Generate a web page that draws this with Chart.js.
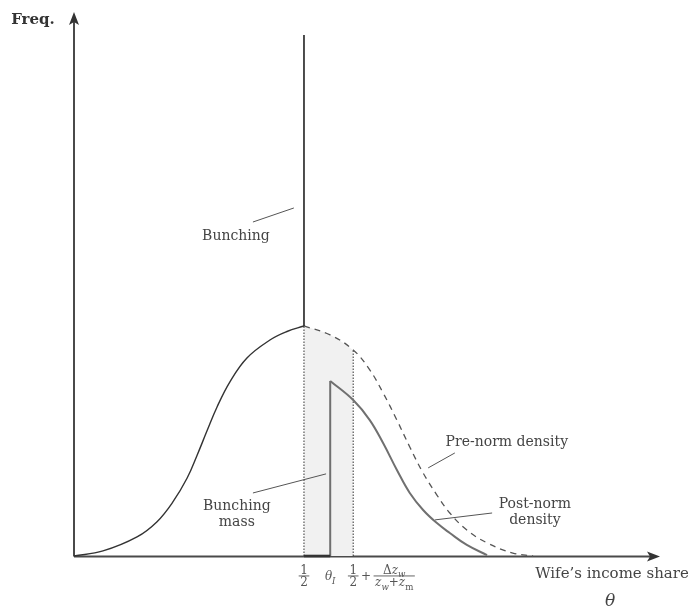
<!DOCTYPE html>
<html><head><meta charset="utf-8">
<script src="https://cdn.jsdelivr.net/npm/chart.js@4/dist/chart.umd.min.js"></script>
<style>html,body{margin:0;padding:0;background:#fff}#wrap{width:698px;height:613px;position:relative}</style>
</head><body><div id="wrap"><canvas id="c"></canvas></div>
<script>
// ---- data (x = wife's income share theta, y = frequency, arbitrary units) ----
const leftX  = [0, 0.063, 0.137, 0.180, 0.215, 0.246, 0.267, 0.289, 0.311, 0.339, 0.376, 0.426, 0.463, 0.5];
const leftY  = [0, 0.022, 0.083, 0.148, 0.235, 0.339, 0.435, 0.543, 0.648, 0.757, 0.861, 0.939, 0.976, 1.0];
const spikeX = [0.5, 0.5];
const spikeY = [1.0, 2.265];
const preX   = [0.5, 0.557, 0.607, 0.643, 0.672, 0.702, 0.730, 0.759, 0.789, 0.817, 0.854, 0.898, 0.954, 0.998];
const preY   = [1.0, 0.961, 0.896, 0.809, 0.709, 0.591, 0.474, 0.361, 0.265, 0.187, 0.113, 0.057, 0.013, 0];
const postJumpX = [0.557, 0.557];
const postJumpY = [0, 0.761];
const postX  = [0.557, 0.607, 0.643, 0.672, 0.702, 0.730, 0.759, 0.789, 0.817, 0.854, 0.898];
const postY  = [0.761, 0.678, 0.591, 0.491, 0.374, 0.274, 0.200, 0.143, 0.100, 0.048, 0.004];
const halfX = 0.5, thetaIX = 0.557, upperX = 0.607;
const bunchBaseX = [0.5, 0.557];
const bunchBaseY = [0, 0];
const tickValues = [halfX, thetaIX, upperX];
const tickLabels = ['\\frac{1}{2}', '\\theta_I', '\\frac{1}{2}+\\frac{\\Delta z_w}{z_w+z_m}'];
const axisLimits = {xMin: 0, xMax: 1.274, yMin: 0, yMax: 2.365};
// annotation texts with anchor positions (data coordinates)
const noteTexts = [['Bunching'], ['Bunching', 'mass'], ['Pre-norm density'], ['Post-norm', 'density']];
const noteX = [0.352, 0.354, 0.941, 1.002];
const noteY = [1.391, 0.18, 0.496, 0.19];
const leaderX = [[0.389, 0.478], [0.389, 0.548], [0.828, 0.770], [0.909, 0.785]];
const leaderY = [[1.452, 1.513], [0.274, 0.357], [0.448, 0.383], [0.187, 0.157]];
const yAxisTitle = 'Freq.';
const xAxisTitle = ["Wife\u2019s income share", '\u03b8'];

const pts = (xs, ys) => xs.map((x, i) => ({x, y: ys[i]}));
const shadeIdx = preX.map((x, i) => i).filter(i => preX[i] <= upperX + 1e-9);

const SERIF = '"DejaVu Serif", "Liberation Serif", serif';
const SMOOTH = 0.4;

const datasets = [
  {data: pts(leftX, leftY), borderColor: '#333', borderWidth: 1.4, tension: SMOOTH, order: 1},
  {data: pts(spikeX, spikeY), borderColor: '#222', borderWidth: 1.6, order: 1},
  {data: pts(preX, preY), borderColor: '#555', borderWidth: 1.3, borderDash: [6, 5], tension: SMOOTH, order: 1},
  {data: pts(postJumpX, postJumpY), borderColor: '#707070', borderWidth: 2, order: 1},
  {data: pts(postX, postY), borderColor: '#707070', borderWidth: 2, tension: SMOOTH, order: 1},
  {data: pts([halfX, halfX], [0, preY[0]]), borderColor: '#333', borderWidth: 1, borderDash: [1.5, 1.5], order: 2},
  {data: pts([upperX, upperX], [0, preY[shadeIdx[shadeIdx.length - 1]]]), borderColor: '#333', borderWidth: 1, borderDash: [1.5, 1.5], order: 2},
  {data: pts(bunchBaseX, bunchBaseY), borderColor: '#333', borderWidth: 2.6, order: 0},
  {data: pts(shadeIdx.map(i => preX[i]), shadeIdx.map(i => preY[i])), borderWidth: 0, borderColor: 'rgba(0,0,0,0)',
   backgroundColor: '#f1f1f1', fill: 'origin', tension: SMOOTH, order: 10}
];
leaderX.forEach((lx, k) => datasets.push({data: pts(lx, leaderY[k]), borderColor: '#555', borderWidth: 1, order: 1}));
datasets.forEach(d => { d.pointRadius = 0; d.clip = 20; d.tension = d.tension || 0; if (d.fill === undefined) d.fill = false; });

// --- tiny TeX-like label renderer ---
function parseInline(s) {
  const out = []; let i = 0;
  while (i < s.length) {
    if (s.startsWith('\\Delta', i)) { out.push({t: '\u0394'}); i += 6; continue; }
    if (s.startsWith('\\theta', i)) { out.push({t: '\u03b8', it: true}); i += 6; continue; }
    const c = s[i];
    if (c === ' ') { i++; continue; }
    if (c === '_') { out.push({t: s[i + 1], it: /[a-zA-Z]/.test(s[i + 1]) && s[i+1] !== 'm', sub: true}); i += 2; continue; }
    out.push({t: c, it: /[a-zA-Z]/.test(c)}); i++;
  }
  return out;
}
function parseTop(s) {
  const items = []; let i = 0;
  while (i < s.length) {
    if (s.startsWith('\\frac{', i)) {
      let j = s.indexOf('}', i); const a = s.slice(i + 6, j);
      let k = s.indexOf('}', j + 2); const b = s.slice(j + 2, k);
      items.push({frac: [parseInline(a), parseInline(b)]}); i = k + 1;
    } else {
      let j = s.indexOf('\\frac{', i); if (j < 0) j = s.length;
      items.push({segs: parseInline(s.slice(i, j))}); i = j;
    }
  }
  return items;
}
function segFont(seg, size) { return (seg.it ? 'italic ' : '') + (seg.sub ? size * 0.72 : size) + 'px ' + SERIF; }
function segW(ctx, segs, size) { let w = 0; for (const s of segs) { ctx.font = segFont(s, size); w += ctx.measureText(s.t).width; } return w; }
function drawSegs(ctx, segs, x, y, size) { for (const s of segs) { ctx.font = segFont(s, size); ctx.fillText(s.t, x, y + (s.sub ? size * 0.28 : 0)); x += ctx.measureText(s.t).width; } }
function itemW(ctx, it, size) {
  if (it.frac) return Math.max(segW(ctx, it.frac[0], size), segW(ctx, it.frac[1], size)) + 3;
  return segW(ctx, it.segs, size) + 5;
}
function drawItem(ctx, it, x, midY, size) {
  const w = itemW(ctx, it, size);
  if (it.frac) {
    const wn = segW(ctx, it.frac[0], size), wd = segW(ctx, it.frac[1], size);
    drawSegs(ctx, it.frac[0], x + (w - wn) / 2, midY - 2, size);
    drawSegs(ctx, it.frac[1], x + (w - wd) / 2, midY + size * 0.85, size);
    ctx.fillRect(x, midY - 0.5, w, 0.9);
  } else {
    drawSegs(ctx, it.segs, x + 2.5, midY + size * 0.35, size);
  }
  return w;
}

const decor = {
  id: 'decor',
  beforeDatasetsDraw(chart) {
    const {ctx, chartArea: a} = chart;
    ctx.save();
    ctx.strokeStyle = '#4a4a4a'; ctx.fillStyle = '#333'; ctx.lineWidth = 2;
    const by = a.bottom + 0.5;
    ctx.beginPath(); ctx.moveTo(a.left, by); ctx.lineTo(a.right - 8, by); ctx.stroke();
    ctx.beginPath(); ctx.moveTo(a.left, by); ctx.lineTo(a.left, a.top + 8); ctx.stroke();
    ctx.beginPath(); ctx.moveTo(a.right, by); ctx.lineTo(a.right - 13, by - 5); ctx.lineTo(a.right - 10, by); ctx.lineTo(a.right - 13, by + 5); ctx.closePath(); ctx.fill();
    ctx.beginPath(); ctx.moveTo(a.left, a.top); ctx.lineTo(a.left - 5, a.top + 13); ctx.lineTo(a.left, a.top + 10); ctx.lineTo(a.left + 5, a.top + 13); ctx.closePath(); ctx.fill();
    ctx.restore();
  },
  afterDraw(chart) {
    const {ctx, chartArea: a, scales: {x, y}} = chart;
    ctx.save();
    ctx.textBaseline = 'alphabetic'; ctx.textAlign = 'left';
    // ticks
    ctx.fillStyle = '#555';
    const size = 12, midY = a.bottom + 20;
    tickValues.forEach((v, k) => {
      const items = parseTop(tickLabels[k]);
      const px = x.getPixelForValue(v);
      let cx = px - itemW(ctx, items[0], size) / 2;
      for (const it of items) cx += drawItem(ctx, it, cx, midY, size);
    });
    // notes
    ctx.fillStyle = '#444'; ctx.textAlign = 'center'; ctx.textBaseline = 'middle';
    ctx.font = '14px ' + SERIF;
    noteTexts.forEach((lines, k) => {
      const px = x.getPixelForValue(noteX[k]), py = y.getPixelForValue(noteY[k]);
      lines.forEach((t, j) => ctx.fillText(t, px, py + (j - (lines.length - 1) / 2) * 16));
    });
    // axis titles
    ctx.fillStyle = '#333'; ctx.font = 'bold 15px ' + SERIF; ctx.textAlign = 'center';
    ctx.fillText(yAxisTitle, a.left - 41, a.top + 8);
    ctx.fillStyle = '#444'; ctx.font = '15px ' + SERIF;
    ctx.fillText(xAxisTitle[0], a.right - 48, a.bottom + 18);
    ctx.font = 'italic 17px ' + SERIF;
    ctx.fillText(xAxisTitle[1], a.right - 50, a.bottom + 46);
    ctx.restore();
  }
};

new Chart(document.getElementById('c'), {
  type: 'line',
  data: {datasets},
  options: {
    responsive: true, maintainAspectRatio: false, animation: false, events: [],
    layout: {padding: {left: 74, right: 38, top: 12, bottom: 57}},
    scales: {
      x: {type: 'linear', display: false, min: axisLimits.xMin, max: axisLimits.xMax},
      y: {type: 'linear', display: false, min: axisLimits.yMin, max: axisLimits.yMax}
    },
    plugins: {legend: {display: false}, tooltip: {enabled: false}}
  },
  plugins: [decor]
});
</script>
</body></html>
